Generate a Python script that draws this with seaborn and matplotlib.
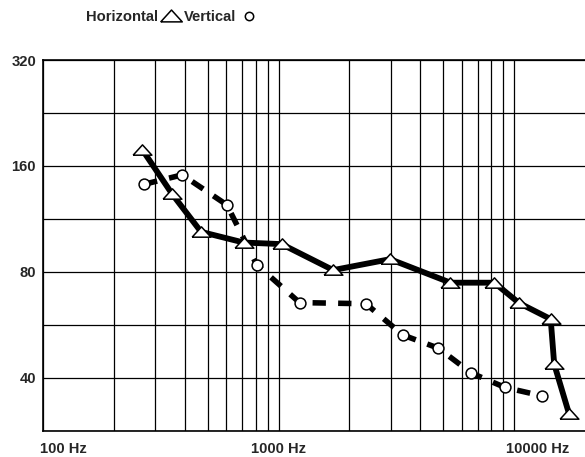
import numpy as np
import pandas as pd
import matplotlib.pyplot as plt
from matplotlib.lines import Line2D
from matplotlib.transforms import ScaledTranslation
import seaborn as sns

sns.set_style("white")
plt.rcParams["font.family"] = ["Liberation Sans", "DejaVu Sans"]
plt.rcParams["font.weight"] = "bold"

# readings (frequency in Hz, level)
h_freq = [264, 354, 469, 711, 1030, 1706, 2974, 5370, 8240, 10500, 14300, 14800, 17100]
h_level = [178, 133, 104, 97, 96, 81, 87, 74.6, 74.6, 65.3, 58.8, 43.8, 31.7]

v_freq = [269, 390, 604, 807, 1228, 2350, 3366, 4775, 6590, 9160, 13100]
v_level = [142, 151, 124, 84, 65.5, 65, 53, 48.6, 41.3, 37.6, 35.6]

y_labels = ["40", "80", "160", "320"]
x_labels = ["100 Hz", "1000 Hz", "10000 Hz"]

df_h = pd.DataFrame({"freq": h_freq, "level": h_level})
df_v = pd.DataFrame({"freq": v_freq, "level": v_level})

tri = [(-1, -0.5), (1, -0.5), (0, 0.6), (-1, -0.5)]

fig = plt.figure(figsize=(5.85, 4.57), dpi=100)
ax = fig.add_axes([43 / 585, 26 / 457, 1 - 43 / 585, 371 / 457])

sns.lineplot(data=df_h, x="freq", y="level", ax=ax, color="black", lw=4.2,
             marker=tri, ms=13.5, mfc="white", mec="black", mew=1.1, zorder=5)
sns.lineplot(data=df_v, x="freq", y="level", ax=ax, color="black", lw=4,
             ls=(0, (2.4, 2.2)), marker="o", ms=7.8, mfc="white", mec="black",
             mew=1.1, zorder=4)

ax.set_xscale("log")
ax.set_yscale("log", base=2)
ax.set_xlim(100, 20000)
ax.set_ylim(20 * np.sqrt(2), 320)

# grid
major_y = [40, 80, 160, 320]
minor_y = [v * np.sqrt(2) for v in [20, 40, 80, 160]]
ax.set_yticks(major_y)
ax.set_yticklabels(y_labels)
ax.set_yticks(minor_y, minor=True)
ax.set_yticklabels([], minor=True)

ax.set_xticks([100, 1000, 10000])
ax.set_xticklabels(x_labels)
ax.set_xticks([m * d for d in (100, 1000) for m in range(2, 10)], minor=True)
ax.set_xticklabels([], minor=True)

ax.grid(True, which="both", color="black", lw=0.9)
ax.set_axisbelow(True)
ax.tick_params(which="both", length=0, labelsize=10.6)
ax.tick_params(axis="y", pad=5)
ax.tick_params(axis="x", pad=8)
ax.set_xlabel("")
ax.set_ylabel("")

for s in ["left", "top", "bottom"]:
    ax.spines[s].set_color("black")
    ax.spines[s].set_linewidth(1.2)
ax.spines["right"].set_visible(False)

labs = ax.get_xticklabels()
labs[0].set_ha("left")
labs[2].set_ha("left")
labs[0].set_transform(labs[0].get_transform() + ScaledTranslation(-0.03, 0, fig.dpi_scale_trans))
labs[2].set_transform(labs[2].get_transform() + ScaledTranslation(-0.08, 0, fig.dpi_scale_trans))

handles = [
    Line2D([], [], ls="none", marker=tri, ms=15.5, mfc="white", mec="black", mew=1.1),
    Line2D([], [], ls="none", marker="o", ms=6, mfc="white", mec="black", mew=1.1),
]
fig.legend(handles, ["Horizontal", "Vertical"], loc="center left",
           bbox_to_anchor=(86 / 585, 1 - 17 / 457), ncol=2, frameon=False,
           markerfirst=False, handlelength=1.4, handletextpad=0.2,
           columnspacing=0.15, borderpad=0, borderaxespad=0,
           prop={"size": 10.6, "weight": "bold"})

fig.savefig("out.png", dpi=100)
